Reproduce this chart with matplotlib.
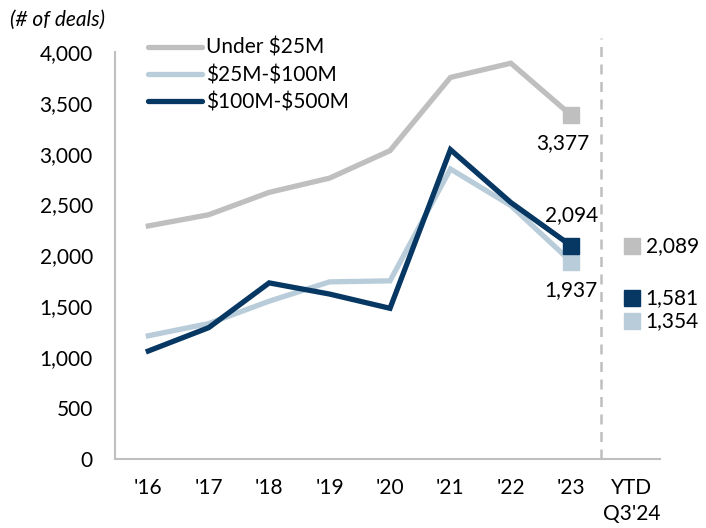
import matplotlib

matplotlib.use("Agg")
import matplotlib.pyplot as plt
from matplotlib.lines import Line2D

plt.rcParams["font.family"] = ["Lato", "DejaVu Sans"]
plt.rcParams["text.parse_math"] = False

# Deal counts by size bucket
years = ["'16", "'17", "'18", "'19", "'20", "'21", "'22", "'23", "YTD\nQ3'24"]
under_25m = [2290, 2400, 2620, 2760, 3030, 3750, 3890, 3377]
m25_100 = [1210, 1330, 1550, 1740, 1750, 2850, 2490, 1937]
m100_500 = [1060, 1290, 1730, 1620, 1480, 3040, 2520, 2094]
ytd = {"Under $25M": 2089, "$25M-$100M": 1354, "$100M-$500M": 1581}

c_gray = "#BFBFBF"
c_light = "#B8CCD9"
c_dark = "#073763"
fs = 15

fig = plt.figure(figsize=(7.06, 5.28), dpi=100)
ax = fig.add_axes([0.163, 0.131, 0.772, 0.7705])

xs = list(range(len(under_25m)))
series = [
    ("Under $25M", under_25m, c_gray),
    ("$25M-$100M", m25_100, c_light),
    ("$100M-$500M", m100_500, c_dark),
]
for name, vals, col in series:
    ax.plot(xs, vals, color=col, lw=3.8, solid_joinstyle="miter", label=name)
    ax.plot(xs[-1], vals[-1], marker="s", ms=11, color=col, ls="none")

# Labels on the '23 points
ax.annotate(f"{under_25m[-1]:,}", (xs[-1], under_25m[-1]), xytext=(-6, -20),
            textcoords="offset points", ha="center", va="center", fontsize=fs)
ax.annotate(f"{m100_500[-1]:,}", (xs[-1], m100_500[-1]), xytext=(0, 22),
            textcoords="offset points", ha="center", va="center", fontsize=fs)
ax.annotate(f"{m25_100[-1]:,}", (xs[-1], m25_100[-1]), xytext=(0, -20),
            textcoords="offset points", ha="center", va="center", fontsize=fs)

# YTD values as standalone squares
ytd_x = len(years) - 1
for name, vals, col in series:
    v = ytd[name]
    ax.plot(ytd_x, v, marker="s", ms=11, color=col, ls="none", clip_on=False)
    ax.annotate(f"{v:,}", (ytd_x, v), xytext=(10, 0), textcoords="offset points",
                ha="left", va="center", fontsize=fs, annotation_clip=False)

# Separator between full years and YTD
ax.plot([7.5, 7.5], [0, 4140], color="#BFBFBF", lw=1.8, ls=(0, (4, 3)), clip_on=False)

ax.set_xlim(-0.55, 8.47)
ax.set_ylim(0, 4000)
ax.set_yticks(range(0, 4001, 500))
ax.set_yticklabels([f"{v:,}" for v in range(0, 4001, 500)])
ax.set_xticks(range(len(years)))
ax.set_xticklabels(years, linespacing=1.35)
ax.tick_params(axis="both", length=0, labelsize=fs)
ax.tick_params(axis="x", pad=14)
ax.tick_params(axis="y", pad=16)

for side in ["top", "right"]:
    ax.spines[side].set_visible(False)
for side in ["left", "bottom"]:
    ax.spines[side].set_color("#BFBFBF")
    ax.spines[side].set_linewidth(1.5)

handles = [Line2D([0], [0], color=col, lw=3.8, solid_capstyle="round") for _, _, col in series]
ax.legend(handles, [s[0] for s in series], loc="upper left", bbox_to_anchor=(0.045, 1.055),
          frameon=False, fontsize=fs, handlelength=2.6, handletextpad=0.2,
          labelspacing=0.35, borderaxespad=0)

fig.text(0.014, 0.962, "(# of deals)", style="italic", fontsize=fs, va="center")

fig.savefig("out.png", dpi=100)
